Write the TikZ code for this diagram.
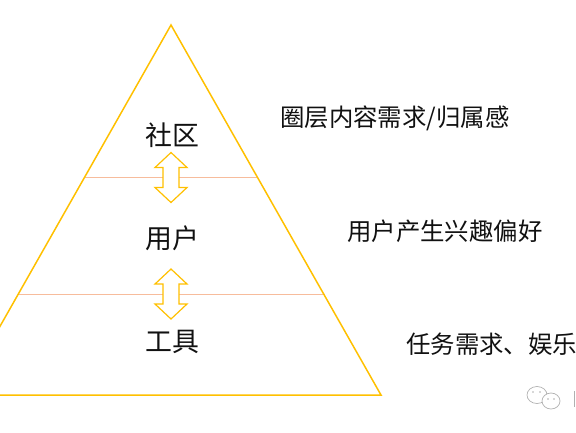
\documentclass[tikz,border=0pt]{standalone}
\usepackage{fontspec}
\newfontfamily\cjk{Noto Sans CJK SC}
\definecolor{gold}{HTML}{FFC000}
\definecolor{salmon}{HTML}{F7BC9C}
\definecolor{wmgray}{HTML}{B0B0B0}
\definecolor{txt}{HTML}{111111}
\begin{document}
\begin{tikzpicture}[x=1bp,y=-1bp,
  pyr/.style={draw=gold,line width=1.5bp,line join=miter},
  layer/.style={draw=salmon,line width=1bp},
  arrowline/.style={draw=gold,fill=white,line width=1.2bp,line join=miter},
  lbl/.style={font=\cjk\fontsize{27}{29}\selectfont,text=txt,inner sep=0pt},
  note/.style={font=\cjk\fontsize{24.5}{27}\selectfont,text=txt,inner sep=0pt,anchor=west},
  dblarrow/.pic={\path[arrowline] (0,-25)--(16,-10)--(8,-10)--(8,10)--(16,10)--(0,25)--(-16,10)--(-8,10)--(-8,-10)--(-16,-10)--cycle;}
]
\useasboundingbox (0,0) rectangle (576,432);
\clip (0,0) rectangle (576,432);
% pyramid
\coordinate (apex) at (171,25);
\coordinate (bl) at (-39,395);
\coordinate (br) at (381,395);
\coordinate (l1) at (257.5,177) ;
\coordinate (l1w) at (84.5,177);
\coordinate (l2) at (324.5,294);
\coordinate (l2w) at (17.5,294);
\draw[layer] (l1w) -- (l1);
\draw[layer] (l2w) -- (l2);
\draw[pyr] (apex) -- (br) -- (bl) -- cycle;
% arrows
\pic at (171,177.5) {dblarrow};
\pic at (171,294) {dblarrow};
% labels
\node[lbl] (she) at (172,135) {社区};
\node[lbl] (yong) at (172,238) {用户};
\node[lbl] (gong) at (172,342) {工具};
\node[note] (n1) at (280,118) {圈层内容需求/归属感};
\node[note] (n2) at (347,231) {用户产生兴趣偏好};
\node[note] (n3) at (406,344) {任务需求、娱乐};
% watermark
\draw[wmgray,line width=0.7bp] (537,395) ellipse (10 and 8.5);
\draw[wmgray,line width=0.7bp,fill=white] (551,401) ellipse (9 and 8);
\fill[wmgray] (533,392) circle (0.9) (540,392) circle (0.9) (548,399) circle (0.9) (554,399) circle (0.9);
\draw[wmgray,line width=1bp] (574,391) -- (574,407);
\end{tikzpicture}
\end{document}
